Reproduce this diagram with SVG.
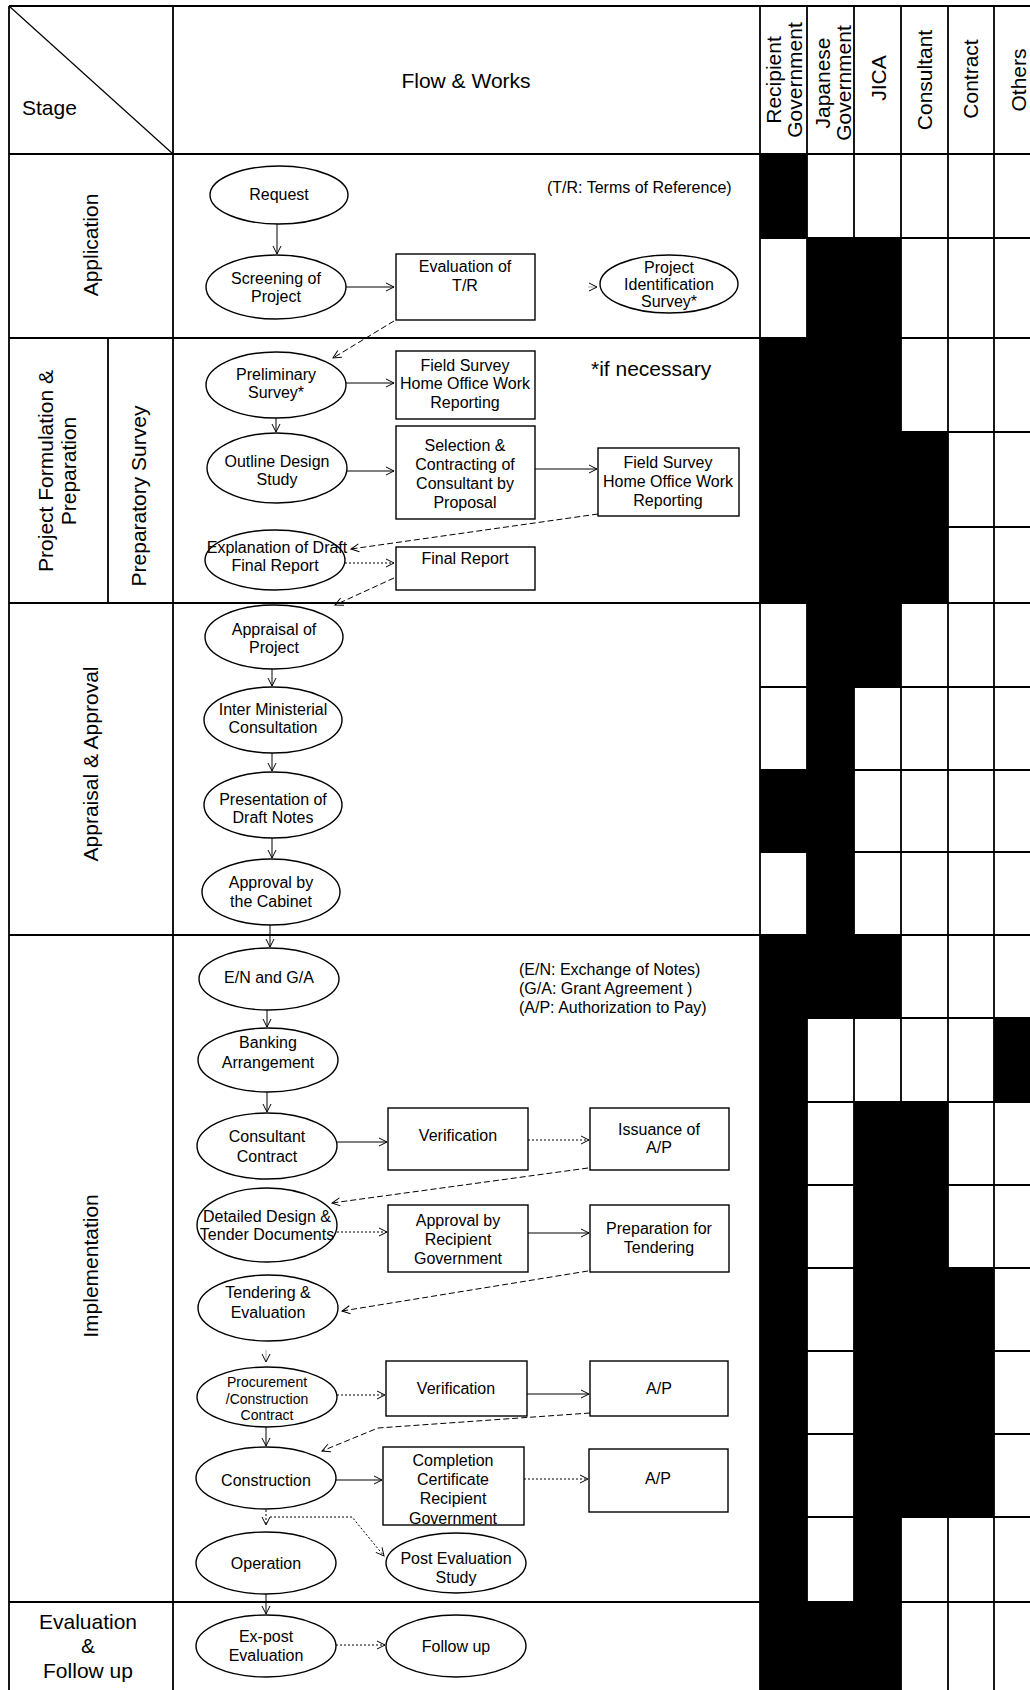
<svg xmlns="http://www.w3.org/2000/svg" width="1030" height="1690" viewBox="0 0 1030 1690">
<style>
.bg{fill:#fff}
.gl{stroke:#000;stroke-width:1.8;fill:none}
.blk{fill:#000}
.nd ellipse,.nd rect{fill:#fff;stroke:#000;stroke-width:1.4}
.t{font-family:"Liberation Sans",Arial,sans-serif;font-size:16px;fill:#000;text-anchor:middle}
.sm{font-size:14px}
.h{font-family:"Liberation Sans",Arial,sans-serif;font-size:21px;fill:#000;text-anchor:middle}
.n{font-family:"Liberation Sans",Arial,sans-serif;font-size:16px;fill:#000}
.c{stroke:#000;stroke-width:1;fill:none;marker-end:url(#ah)}
.da{stroke-dasharray:6 3}
.dt{stroke-dasharray:2 2}
.fa{stroke:#aaa}
</style>
<defs>
<marker id="ah" markerWidth="10" markerHeight="10" refX="9" refY="5" orient="auto" markerUnits="userSpaceOnUse">
<path d="M1,1 L9,5 L1,9" fill="none" stroke="#000" stroke-width="1"/>
</marker>
</defs>
<rect class="bg" x="0" y="0" width="1030" height="1690"/>

<g id="grid-fill">
<rect class="blk" x="760" y="154" width="47" height="84"/>
<rect class="blk" x="760" y="338" width="47" height="265"/>
<rect class="blk" x="760" y="770" width="47" height="82"/>
<rect class="blk" x="760" y="935" width="47" height="755"/>
<rect class="blk" x="807" y="238" width="47" height="780"/>
<rect class="blk" x="807" y="1602" width="47" height="88"/>
<rect class="blk" x="854" y="238" width="47" height="449"/>
<rect class="blk" x="854" y="935" width="47" height="83"/>
<rect class="blk" x="854" y="1102" width="47" height="588"/>
<rect class="blk" x="901" y="432" width="47" height="171"/>
<rect class="blk" x="901" y="1102" width="47" height="415"/>
<rect class="blk" x="948" y="1268" width="46" height="249"/>
<rect class="blk" x="994" y="1018" width="36" height="84"/>
</g>

<g id="table-lines">
<path class="gl" d="M9,6 H1030 M9,154 H1030 M9,338 H1030 M9,603 H1030 M9,935 H1030 M9,1602 H1030"/>
<path class="gl" d="M9,6 V1690 M173,6 V1690 M108,338 V603 M760,6 V1690 M807,6 V1690 M854,6 V1690 M901,6 V1690 M948,6 V1690 M994,6 V1690"/>
<path class="gl" d="M760,238 H1030 M760,432 H1030 M760,527 H1030 M760,687 H1030 M760,770 H1030 M760,852 H1030 M760,1018 H1030 M760,1102 H1030 M760,1185 H1030 M760,1268 H1030 M760,1351 H1030 M760,1434 H1030 M760,1517 H1030"/>
<path d="M9,6 L173,154" stroke="#000" stroke-width="1.2"/>
</g>

<g id="header">
<text class="h" x="22" y="115" style="text-anchor:start">Stage</text>
<text class="h" x="466" y="88">Flow &amp; Works</text>
<text class="h" transform="translate(781,80) rotate(-90)">Recipient</text>
<text class="h" transform="translate(802,80) rotate(-90)">Government</text>
<text class="h" transform="translate(830,83) rotate(-90)">Japanese</text>
<text class="h" transform="translate(851,83) rotate(-90)">Government</text>
<text class="h" transform="translate(886,78) rotate(-90)">JICA</text>
<text class="h" transform="translate(932,80) rotate(-90)">Consultant</text>
<text class="h" transform="translate(978,79) rotate(-90)">Contract</text>
<text class="h" transform="translate(1026,80) rotate(-90)">Others</text>
</g>

<g id="stages">
<text class="h" transform="translate(98,245) rotate(-90)">Application</text>
<text class="h" transform="translate(53,471) rotate(-90)">Project Formulation &amp;</text>
<text class="h" transform="translate(76,471) rotate(-90)">Preparation</text>
<text class="h" transform="translate(146,496) rotate(-90)">Preparatory Survey</text>
<text class="h" transform="translate(98,764) rotate(-90)">Appraisal &amp; Approval</text>
<text class="h" transform="translate(98,1266) rotate(-90)">Implementation</text>
<text class="h" x="88" y="1629">Evaluation</text>
<text class="h" x="88" y="1653">&amp;</text>
<text class="h" x="88" y="1678">Follow up</text>
</g>

<g id="notes">
<text class="n" x="547" y="193">(T/R: Terms of Reference)</text>
<text class="n" x="591" y="376" style="font-size:21px">*if necessary</text>
<text class="n" x="519" y="975">(E/N: Exchange of Notes)</text>
<text class="n" x="519" y="994">(G/A: Grant Agreement )</text>
<text class="n" x="519" y="1013">(A/P: Authorization to Pay)</text>
</g>

<g id="connectors">
<path class="c" d="M277,224 V254"/>
<path class="c" d="M346,287 H394"/>
<path class="c fa" d="M588,287 H597"/>
<path class="c da" d="M394,321 L333,358"/>
<path class="c" d="M346,383 H394"/>
<path class="c" d="M276,418 V432"/>
<path class="c" d="M347,471 H394"/>
<path class="c" d="M535,469 H597"/>
<path class="c da" d="M598,514 L351,549"/>
<path class="c dt" d="M345,563 H394"/>
<path class="c da" d="M394,578 L335,605"/>
<path class="c" d="M272,669 V686"/>
<path class="c" d="M272,753 V771"/>
<path class="c" d="M272,838 V858"/>
<path class="c" d="M270,925 V947"/>
<path class="c" d="M267,1010 V1027"/>
<path class="c" d="M267,1092 V1112"/>
<path class="c" d="M337,1142 H387"/>
<path class="c dt" d="M528,1140 H589"/>
<path class="c da" d="M588,1168 L332,1203"/>
<path class="c dt" d="M337,1232 H387"/>
<path class="c" d="M528,1233 H589"/>
<path class="c da" d="M588,1271 L342,1311"/>
<path class="c fa" d="M266,1350 V1362"/>
<path class="c dt" d="M337,1395 H385"/>
<path class="c" d="M527,1394 H589"/>
<path class="c da" d="M590,1413 L378,1428 L322,1451"/>
<path class="c" d="M266,1427 V1446"/>
<path class="c" d="M336,1480 H382"/>
<path class="c dt" d="M524,1479 H588"/>
<path class="c dt" d="M266,1510 V1525"/>
<path class="c dt" d="M270,1517 H352 L384,1556"/>
<path class="c" d="M266,1594 V1614"/>
<path class="c dt" d="M336,1645 H385"/>
</g>

<g id="n-request" class="nd"><ellipse cx="279" cy="195" rx="69" ry="29"/><text class="t" x="279" y="200">Request</text></g>
<g id="n-screening" class="nd"><ellipse cx="276" cy="287" rx="70" ry="32"/><text class="t" x="276" y="284">Screening of</text><text class="t" x="276" y="302">Project</text></g>
<g id="n-eval-tr" class="nd"><rect x="396" y="254" width="139" height="66"/><text class="t" x="465" y="272">Evaluation of</text><text class="t" x="465" y="291">T/R</text></g>
<g id="n-pis" class="nd"><ellipse cx="669" cy="284" rx="69" ry="29"/><text class="t" x="669" y="273">Project</text><text class="t" x="669" y="290">Identification</text><text class="t" x="669" y="307">Survey*</text></g>

<g id="n-prelim" class="nd"><ellipse cx="276" cy="385" rx="70" ry="33"/><text class="t" x="276" y="380">Preliminary</text><text class="t" x="276" y="398">Survey*</text></g>
<g id="n-field1" class="nd"><rect x="396" y="351" width="139" height="68"/><text class="t" x="465" y="371">Field Survey</text><text class="t" x="465" y="389">Home Office Work</text><text class="t" x="465" y="408">Reporting</text></g>
<g id="n-outline" class="nd"><ellipse cx="277" cy="468" rx="70" ry="35"/><text class="t" x="277" y="467">Outline Design</text><text class="t" x="277" y="485">Study</text></g>
<g id="n-selection" class="nd"><rect x="396" y="426" width="139" height="93"/><text class="t" x="465" y="451">Selection &amp;</text><text class="t" x="465" y="470">Contracting of</text><text class="t" x="465" y="489">Consultant by</text><text class="t" x="465" y="508">Proposal</text></g>
<g id="n-field2" class="nd"><rect x="598" y="448" width="141" height="68"/><text class="t" x="668" y="468">Field Survey</text><text class="t" x="668" y="487">Home Office Work</text><text class="t" x="668" y="506">Reporting</text></g>
<g id="n-explanation" class="nd"><ellipse cx="275" cy="560" rx="70" ry="30"/><text class="t" x="277" y="553">Explanation of Draft</text><text class="t" x="275" y="571">Final Report</text></g>
<g id="n-final" class="nd"><rect x="396" y="547" width="139" height="43"/><text class="t" x="465" y="564">Final Report</text></g>

<g id="n-appraisal" class="nd"><ellipse cx="274" cy="637" rx="69" ry="32"/><text class="t" x="274" y="635">Appraisal of</text><text class="t" x="274" y="653">Project</text></g>
<g id="n-inter" class="nd"><ellipse cx="273" cy="720" rx="69" ry="33"/><text class="t" x="273" y="715">Inter Ministerial</text><text class="t" x="273" y="733">Consultation</text></g>
<g id="n-presentation" class="nd"><ellipse cx="273" cy="805" rx="69" ry="33"/><text class="t" x="273" y="805">Presentation of</text><text class="t" x="273" y="823">Draft Notes</text></g>
<g id="n-cabinet" class="nd"><ellipse cx="271" cy="892" rx="69" ry="33"/><text class="t" x="271" y="888">Approval by</text><text class="t" x="271" y="907">the Cabinet</text></g>

<g id="n-en-ga" class="nd"><ellipse cx="269" cy="979" rx="70" ry="31"/><text class="t" x="269" y="983">E/N and G/A</text></g>
<g id="n-banking" class="nd"><ellipse cx="268" cy="1060" rx="70" ry="32"/><text class="t" x="268" y="1048">Banking</text><text class="t" x="268" y="1068">Arrangement</text></g>
<g id="n-consultant" class="nd"><ellipse cx="267" cy="1146" rx="70" ry="33"/><text class="t" x="267" y="1142">Consultant</text><text class="t" x="267" y="1162">Contract</text></g>
<g id="n-verif1" class="nd"><rect x="388" y="1108" width="140" height="62"/><text class="t" x="458" y="1141">Verification</text></g>
<g id="n-issuance" class="nd"><rect x="590" y="1108" width="139" height="62"/><text class="t" x="659" y="1135">Issuance of</text><text class="t" x="659" y="1153">A/P</text></g>
<g id="n-detailed" class="nd"><ellipse cx="267" cy="1225" rx="70" ry="37"/><text class="t" x="267" y="1222">Detailed Design &amp;</text><text class="t" x="267" y="1240">Tender Documents</text></g>
<g id="n-approval-rg" class="nd"><rect x="388" y="1205" width="140" height="67"/><text class="t" x="458" y="1226">Approval by</text><text class="t" x="458" y="1245">Recipient</text><text class="t" x="458" y="1264">Government</text></g>
<g id="n-preparation" class="nd"><rect x="590" y="1205" width="139" height="67"/><text class="t" x="659" y="1234">Preparation for</text><text class="t" x="659" y="1253">Tendering</text></g>
<g id="n-tendering" class="nd"><ellipse cx="268" cy="1308" rx="70" ry="33"/><text class="t" x="268" y="1298">Tendering &amp;</text><text class="t" x="268" y="1318">Evaluation</text></g>
<g id="n-procurement" class="nd"><ellipse cx="267" cy="1397" rx="70" ry="30"/><text class="t sm" x="267" y="1387">Procurement</text><text class="t sm" x="267" y="1404">/Construction</text><text class="t sm" x="267" y="1420">Contract</text></g>
<g id="n-verif2" class="nd"><rect x="386" y="1361" width="141" height="55"/><text class="t" x="456" y="1394">Verification</text></g>
<g id="n-ap1" class="nd"><rect x="590" y="1361" width="138" height="55"/><text class="t" x="659" y="1394">A/P</text></g>
<g id="n-construction" class="nd"><ellipse cx="266" cy="1478" rx="70" ry="31"/><text class="t" x="266" y="1486">Construction</text></g>
<g id="n-completion" class="nd"><rect x="383" y="1447" width="141" height="78"/><text class="t" x="453" y="1466">Completion</text><text class="t" x="453" y="1485">Certificate</text><text class="t" x="453" y="1504">Recipient</text><text class="t" x="453" y="1524">Government</text></g>
<g id="n-ap2" class="nd"><rect x="589" y="1449" width="139" height="63"/><text class="t" x="658" y="1484">A/P</text></g>
<g id="n-operation" class="nd"><ellipse cx="266" cy="1563" rx="70" ry="31"/><text class="t" x="266" y="1569">Operation</text></g>
<g id="n-posteval" class="nd"><ellipse cx="456" cy="1563" rx="70" ry="30"/><text class="t" x="456" y="1564">Post Evaluation</text><text class="t" x="456" y="1583">Study</text></g>

<g id="n-expost" class="nd"><ellipse cx="266" cy="1646" rx="70" ry="31"/><text class="t" x="266" y="1642">Ex-post</text><text class="t" x="266" y="1661">Evaluation</text></g>
<g id="n-followup" class="nd"><ellipse cx="456" cy="1646" rx="70" ry="31"/><text class="t" x="456" y="1652">Follow up</text></g>
</svg>
